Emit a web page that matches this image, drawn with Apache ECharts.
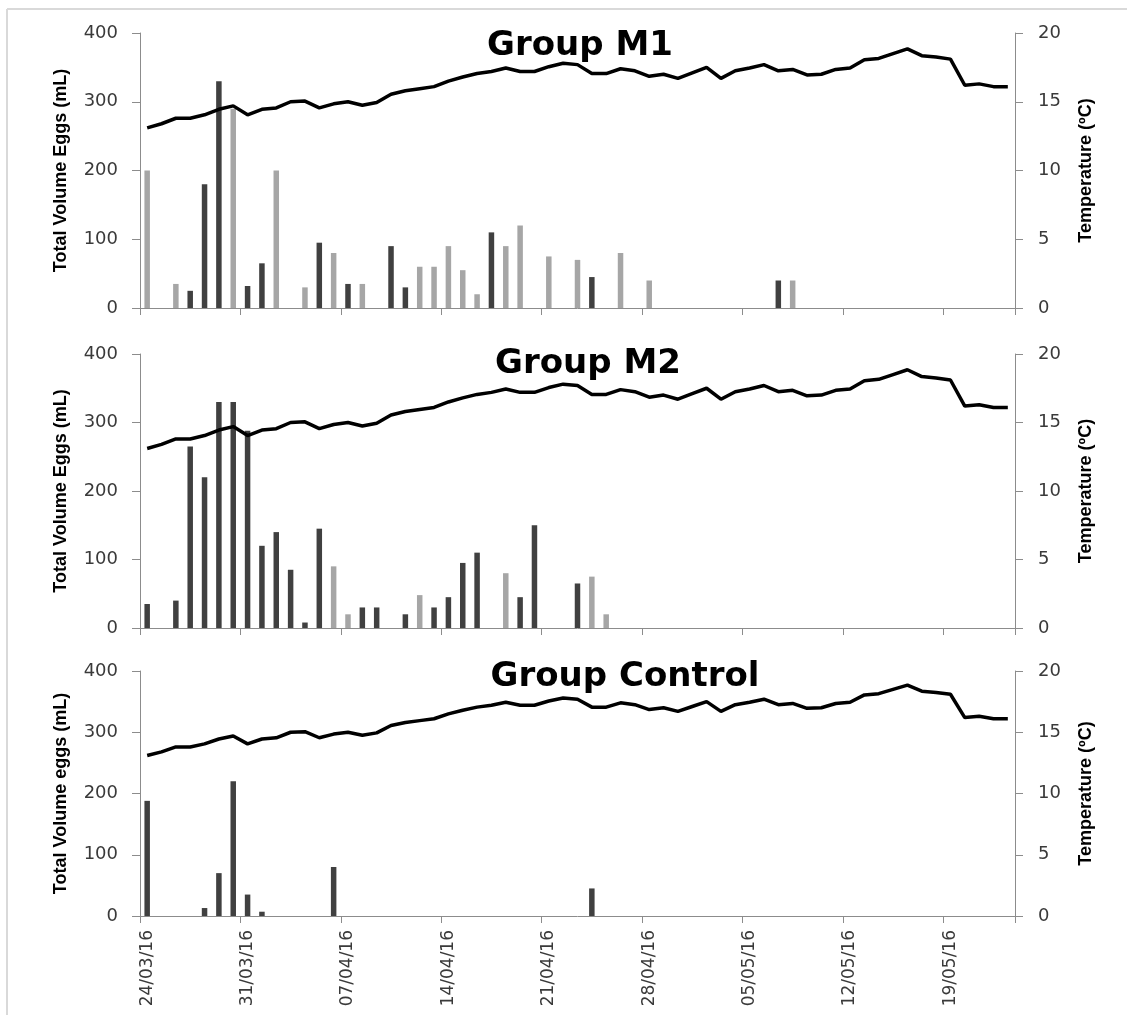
<!DOCTYPE html>
<html>
<head>
<meta charset="utf-8">
<script src="https://cdn.jsdelivr.net/npm/echarts@6/dist/echarts.min.js"></script>
<style>
html,body{margin:0;padding:0;background:#fff;}
#chart{width:1127px;height:1015px;}
</style>
</head>
<body>
<div id="chart"></div>
<script>
// ---- categories (days) ----
const dates = [
 '24/03/16','25/03/16','26/03/16','27/03/16','28/03/16','29/03/16','30/03/16','31/03/16',
 '01/04/16','02/04/16','03/04/16','04/04/16','05/04/16','06/04/16','07/04/16','08/04/16',
 '09/04/16','10/04/16','11/04/16','12/04/16','13/04/16','14/04/16','15/04/16','16/04/16',
 '17/04/16','18/04/16','19/04/16','20/04/16','21/04/16','22/04/16','23/04/16','24/04/16',
 '25/04/16','26/04/16','27/04/16','28/04/16','29/04/16','30/04/16','01/05/16','02/05/16',
 '03/05/16','04/05/16','05/05/16','06/05/16','07/05/16','08/05/16','09/05/16','10/05/16',
 '11/05/16','12/05/16','13/05/16','14/05/16','15/05/16','16/05/16','17/05/16','18/05/16',
 '19/05/16','20/05/16','21/05/16','22/05/16','23/05/16'
];

// ---- temperature (ºC), one per day ----
const temperature = [
 13.1,13.4,13.8,13.8,14.05,14.45,14.7,14.05,14.45,14.55,15.0,15.05,14.55,14.85,15.0,14.75,
 14.95,15.55,15.8,15.95,16.1,16.5,16.8,17.05,17.2,17.45,17.2,17.2,17.55,17.8,17.7,17.05,
 17.05,17.4,17.25,16.85,17.0,16.7,17.1,17.5,16.7,17.25,17.45,17.7,17.25,17.35,16.95,17.0,
 17.35,17.45,18.05,18.15,18.5,18.85,18.35,18.25,18.1,16.2,16.3,16.1,16.1
];

// ---- Group M1 ----
const m1DarkDates = ['27/03/16','28/03/16','29/03/16','31/03/16','01/04/16','05/04/16','07/04/16','10/04/16','11/04/16','17/04/16','24/04/16','07/05/16'];
const m1DarkVals  = [25,180,330,32,65,95,35,90,30,110,45,40];
const m1LightDates = ['24/03/16','26/03/16','30/03/16','02/04/16','04/04/16','06/04/16','08/04/16','12/04/16','13/04/16','14/04/16','15/04/16','16/04/16','18/04/16','19/04/16','21/04/16','23/04/16','26/04/16','28/04/16','08/05/16'];
const m1LightVals  = [200,35,290,200,30,80,35,60,60,90,55,20,90,120,75,70,80,40,40];

// ---- Group M2 ----
const m2DarkDates = ['24/03/16','26/03/16','27/03/16','28/03/16','29/03/16','30/03/16','31/03/16','01/04/16','02/04/16','03/04/16','04/04/16','05/04/16','08/04/16','09/04/16','11/04/16','13/04/16','14/04/16','15/04/16','16/04/16','19/04/16','20/04/16','23/04/16'];
const m2DarkVals  = [35,40,265,220,330,330,288,120,140,85,8,145,30,30,20,30,45,95,110,45,150,65];
const m2LightDates = ['06/04/16','07/04/16','12/04/16','18/04/16','24/04/16','25/04/16'];
const m2LightVals  = [90,20,48,80,75,20];

// ---- Group Control ----
const ctrlDarkDates = ['24/03/16','28/03/16','29/03/16','30/03/16','31/03/16','01/04/16','06/04/16','24/04/16'];
const ctrlDarkVals  = [188,13,70,220,35,7,80,45];
const ctrlLightDates = [];
const ctrlLightVals  = [];

const titles = ['Group M1','Group M2','Group Control'];
const leftNames = ['Total Volume Eggs (mL)','Total Volume Eggs (mL)','Total Volume eggs (mL)'];
const rightName = 'Temperature (ºC)';

function toSeries(ds, vs) {
  const arr = dates.map(() => null);
  ds.forEach((d, i) => { arr[dates.indexOf(d)] = vs[i]; });
  return arr;
}

const panels = [
  {dark: toSeries(m1DarkDates, m1DarkVals), light: toSeries(m1LightDates, m1LightVals)},
  {dark: toSeries(m2DarkDates, m2DarkVals), light: toSeries(m2LightDates, m2LightVals)},
  {dark: toSeries(ctrlDarkDates, ctrlDarkVals), light: toSeries(ctrlLightDates, ctrlLightVals)}
];

const AX = '#8c8c8c';
const LBL = '#3a3a3a';
const gridTops = [33, 354, 671];
const gridHeights = [275, 274, 245];
const titlePos = [[580, 46], [588, 364], [625, 677]];

const grid = [], xAxis = [], yAxis = [], series = [], graphic = [];
for (let i = 0; i < 3; i++) {
  grid.push({left: 140, right: 112, top: gridTops[i], height: gridHeights[i], outerBoundsMode: 'none'});
  xAxis.push({
    type: 'category', gridIndex: i, data: dates, boundaryGap: true,
    axisLine: {show: true, lineStyle: {color: AX, width: 1}},
    axisTick: {show: true, interval: 6, length: 7, lineStyle: {color: AX, width: 1}},
    axisLabel: {show: i === 2, interval: 6, rotate: 90, margin: 14, fontSize: 17,
      fontFamily: 'DejaVu Sans', color: LBL},
    splitLine: {show: false}
  });
  yAxis.push({
    type: 'value', gridIndex: i, position: 'left', min: 0, max: 400, interval: 100,
    name: leftNames[i], nameLocation: 'middle', nameGap: 70, nameRotate: 90,
    nameTextStyle: {fontFamily: 'Liberation Sans', fontWeight: 'bold', fontSize: 18, color: '#000'},
    axisLine: {show: true, lineStyle: {color: AX, width: 1}},
    axisTick: {show: true, length: 8, lineStyle: {color: AX, width: 1}},
    axisLabel: {margin: 22, fontSize: 18, fontFamily: 'DejaVu Sans', color: LBL},
    splitLine: {show: false}
  });
  yAxis.push({
    type: 'value', gridIndex: i, position: 'right', min: 0, max: 20, interval: 5,
    name: rightName, nameLocation: 'middle', nameGap: 62, nameRotate: 90,
    nameTextStyle: {fontFamily: 'Liberation Sans', fontWeight: 'bold', fontSize: 18, color: '#000'},
    axisLine: {show: true, lineStyle: {color: AX, width: 1}},
    axisTick: {show: true, length: 8, lineStyle: {color: AX, width: 1}},
    axisLabel: {margin: 23, fontSize: 18, fontFamily: 'DejaVu Sans', color: LBL},
    splitLine: {show: false}
  });
  series.push({
    type: 'bar', xAxisIndex: i, yAxisIndex: 2 * i, data: panels[i].dark,
    barWidth: 5.5, barGap: '-100%', itemStyle: {color: '#404040'}, z: 2
  });
  series.push({
    type: 'bar', xAxisIndex: i, yAxisIndex: 2 * i, data: panels[i].light,
    barWidth: 5.5, barGap: '-100%', itemStyle: {color: '#a6a6a6'}, z: 2
  });
  series.push({
    type: 'line', xAxisIndex: i, yAxisIndex: 2 * i + 1, data: temperature,
    symbol: 'none', lineStyle: {color: '#000', width: 3.5}, z: 5
  });
  graphic.push({
    type: 'text', x: titlePos[i][0], y: titlePos[i][1], z: 10,
    style: {text: titles[i], fill: '#000', font: 'bold 34px "DejaVu Sans"', align: 'center', verticalAlign: 'middle'}
  });
}
// outer frame (top and left edges)
graphic.push({type: 'line', shape: {x1: 7, y1: 9, x2: 1127, y2: 9}, style: {stroke: '#d9d9d9', lineWidth: 2}});
graphic.push({type: 'line', shape: {x1: 7, y1: 9, x2: 7, y2: 1015}, style: {stroke: '#d9d9d9', lineWidth: 2}});

const chart = echarts.init(document.getElementById('chart'), null, {renderer: 'canvas'});
chart.setOption({
  animation: false,
  backgroundColor: '#fff',
  grid, xAxis, yAxis, series, graphic
});
</script>
</body>
</html>
